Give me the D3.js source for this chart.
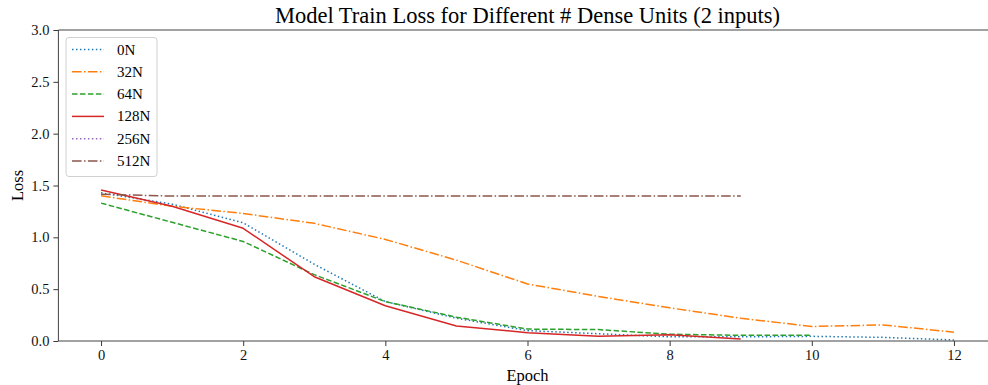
<!DOCTYPE html>
<html>
<head>
<meta charset="utf-8">
<script src="https://cdn.jsdelivr.net/npm/d3@7"></script>
<style>
  html, body { margin: 0; padding: 0; background: #fff; }
  svg { display: block; font-family: "Liberation Serif", "Times New Roman", serif; }
</style>
</head>
<body>
<svg id="chart" width="988" height="385"></svg>
<script>
// Training loss per epoch for each dense-unit configuration
const seriesNames = ["0N", "32N", "64N", "128N", "256N", "512N"];
const loss0N   = [1.43, 1.32, 1.14, 0.74, 0.38, 0.22, 0.10, 0.07, 0.04, 0.04, 0.045, 0.035, 0.01];
const loss32N  = [1.40, 1.30, 1.23, 1.135, 0.98, 0.78, 0.55, 0.43, 0.32, 0.22, 0.14, 0.155, 0.085];
const loss64N  = [1.33, 1.145, 0.96, 0.64, 0.38, 0.23, 0.115, 0.11, 0.065, 0.055, 0.055];
const loss128N = [1.456, 1.30, 1.087, 0.62, 0.34, 0.145, 0.08, 0.045, 0.06, 0.02];
const loss256N = [];
const loss512N = [1.415, 1.398, 1.398, 1.398, 1.398, 1.398, 1.398, 1.398, 1.398, 1.398];
const xTicks = [0, 2, 4, 6, 8, 10, 12];
const yTicks = [0.0, 0.5, 1.0, 1.5, 2.0, 2.5, 3.0];

const seriesValues = [loss0N, loss32N, loss64N, loss128N, loss256N, loss512N];
const colors = ["#1f77b4", "#ff7f0e", "#2ca02c", "#d62728", "#9467bd", "#8c564b"];
const dashes = ["1.5,2.475", "9.6,2.4,1.5,2.4", "5.55,2.4", null, "1.5,2.475", "9.6,2.4,1.5,2.4"];

const svg = d3.select("#chart");
const plotLeft = 58.4, plotRight = 996.6, plotTop = 30, plotBottom = 341;

const x = d3.scaleLinear().domain([-0.6, 12.6]).range([plotLeft, plotRight]);
const y = d3.scaleLinear().domain([0, 3]).range([plotBottom, plotTop]);

svg.append("defs").append("clipPath").attr("id", "plotclip")
  .append("rect").attr("x", plotLeft).attr("y", plotTop)
  .attr("width", plotRight - plotLeft).attr("height", plotBottom - plotTop);

// Data lines
const line = d3.line().x((d, i) => x(i)).y(d => y(d));
const plot = svg.append("g").attr("clip-path", "url(#plotclip)");
seriesValues.forEach((vals, k) => {
  if (!vals.length) return;
  plot.append("path")
    .datum(vals)
    .attr("d", line)
    .attr("fill", "none")
    .attr("stroke", colors[k])
    .attr("stroke-width", 1.5)
    .attr("stroke-dasharray", dashes[k])
    .attr("stroke-linejoin", "round");
});

// Axes
const xAxis = d3.axisBottom(x).tickValues(xTicks).tickFormat(d3.format("d")).tickSizeOuter(0).tickSize(5).tickPadding(4);
const yAxis = d3.axisLeft(y).tickValues(yTicks).tickFormat(d3.format(".1f")).tickSizeOuter(0).tickSize(5).tickPadding(4);

const gx = svg.append("g").attr("transform", `translate(0,${plotBottom})`).call(xAxis);
const gy = svg.append("g").attr("transform", `translate(${plotLeft},0)`).call(yAxis);
[gx, gy].forEach(g => {
  g.select(".domain").remove();
  g.selectAll(".tick line").attr("stroke", "#222").attr("stroke-width", 0.9);
  g.selectAll(".tick text").attr("fill", "#111").style("font-size", "14.5px")
    .style("font-family", "'Liberation Serif', serif");
});

// Spines (the right one falls just past the canvas edge)
const spine = (x1, y1, x2, y2) => svg.append("line")
  .attr("x1", x1).attr("y1", y1).attr("x2", x2).attr("y2", y2)
  .attr("stroke", "#444").attr("stroke-width", 1);
spine(plotLeft, plotTop, plotRight, plotTop);
spine(plotLeft, plotBottom, plotRight, plotBottom);
spine(plotLeft, plotTop, plotLeft, plotBottom);
spine(plotRight, plotTop, plotRight, plotBottom);

// Title and axis labels
const midX = (plotLeft + plotRight) / 2;
svg.append("text").attr("x", midX).attr("y", 23).attr("text-anchor", "middle")
  .style("font-size", "22.5px").attr("fill", "#000")
  .text("Model Train Loss for Different # Dense Units (2 inputs)");
svg.append("text").attr("x", midX).attr("y", 381).attr("text-anchor", "middle")
  .style("font-size", "16.5px").attr("fill", "#000").text("Epoch");
svg.append("text").attr("transform", `translate(23,${(plotTop + plotBottom) / 2}) rotate(-90)`)
  .attr("text-anchor", "middle").style("font-size", "16.5px").attr("fill", "#000").text("Loss");

// Legend
const lg = svg.append("g");
lg.append("rect").attr("x", 66).attr("y", 37.5).attr("width", 91).attr("height", 139)
  .attr("rx", 3).attr("fill", "#fff").attr("fill-opacity", 0.8)
  .attr("stroke", "#d0d0d0").attr("stroke-width", 1);
seriesNames.forEach((name, k) => {
  const cy = 49.5 + k * 22.3;
  lg.append("line").attr("x1", 72).attr("x2", 104).attr("y1", cy).attr("y2", cy)
    .attr("stroke", colors[k]).attr("stroke-width", 1.5).attr("stroke-dasharray", dashes[k]);
  lg.append("text").attr("x", 117).attr("y", cy + 5).style("font-size", "15px")
    .attr("fill", "#000").text(name);
});
</script>
</body>
</html>
